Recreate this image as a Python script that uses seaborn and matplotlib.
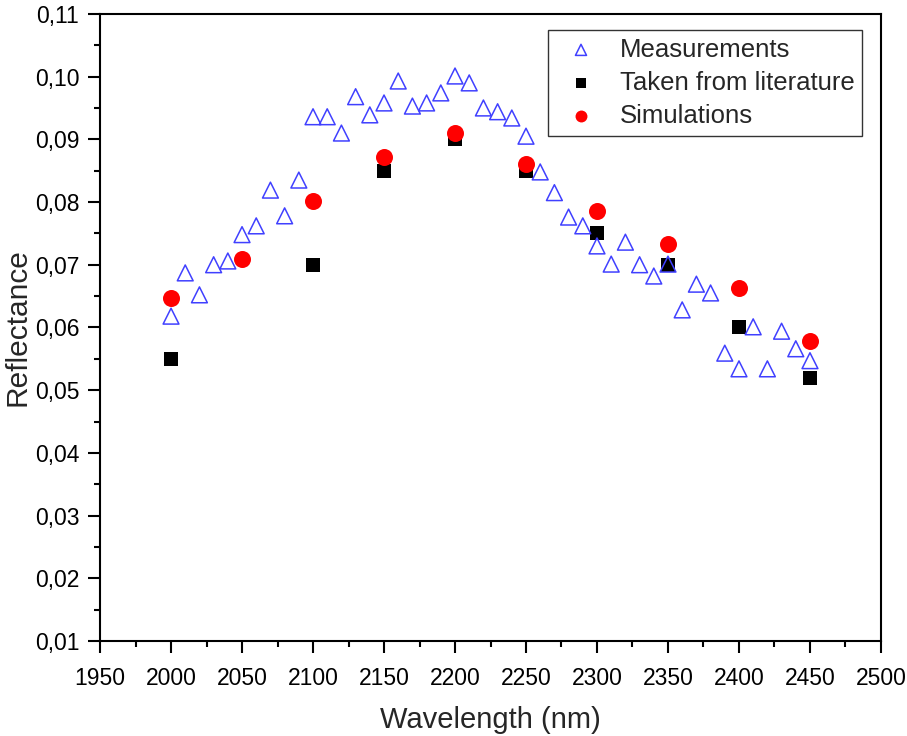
import numpy as np
import pandas as pd
import matplotlib
matplotlib.use("Agg")
import matplotlib.pyplot as plt
from matplotlib.ticker import MultipleLocator, FuncFormatter
import seaborn as sns

sns.set_theme(style="white")
plt.rcParams['font.family'] = ['Liberation Sans', 'DejaVu Sans']

meas_wl = list(range(2000, 2451, 10))
meas_refl = [0.0618, 0.0687, 0.0652, 0.0700, 0.0706, 0.0748, 0.0762, 0.0819, 0.0778, 0.0835,
             0.0936, 0.0936, 0.0910, 0.0968, 0.0939, 0.0958, 0.0993, 0.0953, 0.0958, 0.0974,
             0.1001, 0.0990, 0.0950, 0.0944, 0.0934, 0.0905, 0.0848, 0.0815, 0.0776, 0.0762,
             0.0730, 0.0701, 0.0736, 0.0700, 0.0682, 0.0701, 0.0628, 0.0669, 0.0655, 0.0559,
             0.0534, 0.0601, 0.0534, 0.0594, 0.0566, 0.0547]
lit_wl = [2000, 2100, 2150, 2200, 2250, 2300, 2350, 2400, 2450]
lit_refl = [0.055, 0.070, 0.085, 0.090, 0.085, 0.075, 0.070, 0.060, 0.052]
sim_wl = [2000, 2050, 2100, 2150, 2200, 2250, 2300, 2350, 2400, 2450]
sim_refl = [0.0647, 0.0709, 0.0802, 0.0872, 0.0910, 0.0861, 0.0786, 0.0733, 0.0663, 0.0578]

fig = plt.figure(figsize=(9.07, 7.36), dpi=100)
ax = fig.add_axes([0.1103, 0.1291, 0.861, 0.852])

sns.scatterplot(x=lit_wl, y=lit_refl, marker='s', s=90, color='black', edgecolor='black',
                linewidth=0, ax=ax, label='Taken from literature', zorder=2)
sns.scatterplot(x=meas_wl, y=meas_refl, marker='^', s=130, facecolor='none',
                edgecolor='#4040ff', linewidth=1.1, ax=ax, label='Measurements', zorder=3)
sns.scatterplot(x=sim_wl, y=sim_refl, marker='o', s=150, color='#ff0000', edgecolor='#ff0000',
                linewidth=0, ax=ax, label='Simulations', zorder=4)

ax.set_xlim(1950, 2500)
ax.set_ylim(0.01, 0.11)
ax.xaxis.set_major_locator(MultipleLocator(50))
ax.xaxis.set_minor_locator(MultipleLocator(25))
ax.yaxis.set_major_locator(MultipleLocator(0.01))
ax.yaxis.set_minor_locator(MultipleLocator(0.005))
ax.yaxis.set_major_formatter(FuncFormatter(lambda v, p: f"{v:.2f}".replace('.', ',')))
ax.xaxis.set_major_formatter(FuncFormatter(lambda v, p: f"{int(round(v))}"))
ax.tick_params(axis='both', which='major', direction='out', length=8.5, width=1.5,
               labelsize=16.5, color='black', labelcolor='black', bottom=True, left=True)
ax.tick_params(axis='x', which='major', pad=10)
ax.tick_params(axis='y', which='major', pad=6.5)
ax.tick_params(axis='both', which='minor', direction='out', length=4.5, width=1.5,
               color='black', bottom=True, left=True)
for sp in ax.spines.values():
    sp.set_color('black')
    sp.set_linewidth(1.5)

ax.set_xlabel('Wavelength (nm)', fontsize=21, labelpad=12)
ax.set_ylabel('Reflectance', fontsize=21.5, labelpad=2)

handles, labels = ax.get_legend_handles_labels()
order = [labels.index('Measurements'), labels.index('Taken from literature'), labels.index('Simulations')]
leg = ax.legend([handles[i] for i in order], [labels[i] for i in order],
                loc='upper right', bbox_to_anchor=(0.9757, 0.9745), borderaxespad=0,
                fontsize=18.5, frameon=True, fancybox=False, edgecolor='black', markerscale=0.7,
                handletextpad=0.5, borderpad=0.3, labelspacing=0.36)
leg.get_frame().set_linewidth(1.0)

fig.savefig('out.png', dpi=100, facecolor='white')
